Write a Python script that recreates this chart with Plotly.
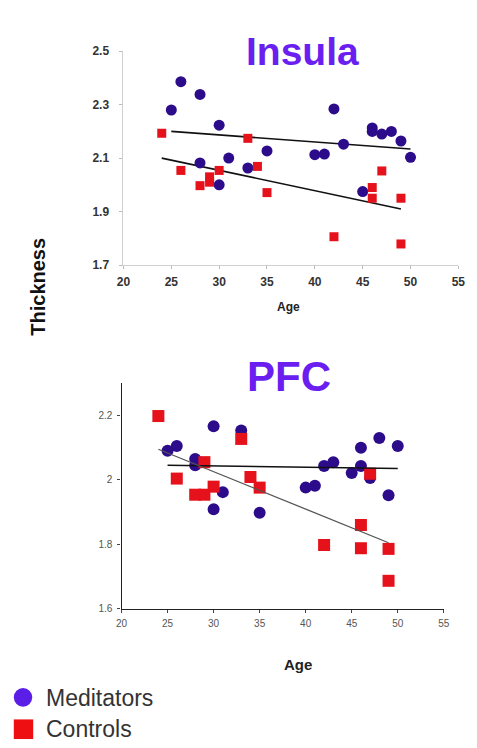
import plotly.graph_objects as go

W, H = 477, 748

# ---------------- Insula data ----------------
ins_med_age = [25, 26, 28, 30, 28, 30, 31, 33, 35, 40, 41, 42, 43, 45, 46, 46, 47, 48, 49, 50]
ins_med_thk = [2.28, 2.386, 2.338, 2.223, 2.082, 2.0, 2.10, 2.063, 2.127, 2.113, 2.115, 2.284,
               2.152, 1.975, 2.213, 2.20, 2.19, 2.20, 2.164, 2.103]
ins_con_age = [24, 26, 28, 29, 29, 30, 33, 34, 35, 42, 46, 46, 47, 49, 49]
ins_con_thk = [2.193, 2.054, 1.997, 2.03, 2.01, 2.054, 2.174, 2.069, 1.971, 1.806, 1.99, 1.95,
               2.052, 1.95, 1.779]
ins_med_fit_age = [25, 50]
ins_med_fit_thk = [2.20, 2.134]
ins_con_fit_age = [24, 49]
ins_con_fit_thk = [2.10, 1.91]

# ---------------- PFC data ----------------
pfc_med_age = [25, 26, 28, 28, 30, 30, 31, 33, 35, 40, 41, 42, 43, 45, 46, 46, 47, 48, 49, 50]
pfc_med_thk = [2.089, 2.104, 2.064, 2.044, 2.165, 1.908, 1.961, 2.152, 1.897, 1.975, 1.981,
               2.042, 2.054, 2.02, 2.099, 2.042, 2.005, 2.129, 1.951, 2.104]
pfc_con_age = [24, 26, 28, 29, 29, 30, 33, 34, 35, 42, 46, 46, 47, 49, 49]
pfc_con_thk = [2.197, 2.003, 1.953, 1.953, 2.054, 1.978, 2.126, 2.008, 1.975, 1.797, 1.859,
               1.787, 2.018, 1.785, 1.686]
pfc_med_fit_age = [25, 50]
pfc_med_fit_thk = [2.044, 2.034]
pfc_con_fit_age = [24, 49]
pfc_con_fit_thk = [2.094, 1.804]

x_ticks = [20, 25, 30, 35, 40, 45, 50, 55]
ins_y_ticks = [1.7, 1.9, 2.1, 2.3, 2.5]
ins_y_labels = ["1.7", "1.9", "2.1", "2.3", "2.5"]
pfc_y_ticks = [1.6, 1.8, 2.0, 2.2]
pfc_y_labels = ["1.6", "1.8", "2", "2.2"]

MED_C = "#2c0c8a"
CON_C = "#e5121c"
TITLE_C = "#6a1ff0"


def px_x(p):
    return p / W


def px_y(p):
    return 1 - p / H


fig = go.Figure()

# Insula
fig.add_trace(go.Scatter(x=ins_med_fit_age, y=ins_med_fit_thk, mode="lines",
                         line=dict(color="#111", width=1.6), xaxis="x", yaxis="y", showlegend=False))
fig.add_trace(go.Scatter(x=ins_con_fit_age, y=ins_con_fit_thk, mode="lines",
                         line=dict(color="#111", width=1.6), xaxis="x", yaxis="y", showlegend=False))
fig.add_trace(go.Scatter(x=ins_med_age, y=ins_med_thk, mode="markers", cliponaxis=False,
                         marker=dict(symbol="circle", size=11, color=MED_C),
                         xaxis="x", yaxis="y", showlegend=False))
fig.add_trace(go.Scatter(x=ins_con_age, y=ins_con_thk, mode="markers", cliponaxis=False,
                         marker=dict(symbol="square", size=9, color=CON_C),
                         xaxis="x", yaxis="y", showlegend=False))

# PFC
fig.add_trace(go.Scatter(x=pfc_med_age, y=pfc_med_thk, mode="markers", cliponaxis=False,
                         marker=dict(symbol="circle", size=12, color=MED_C),
                         xaxis="x2", yaxis="y2", showlegend=False))
fig.add_trace(go.Scatter(x=pfc_con_age, y=pfc_con_thk, mode="markers", cliponaxis=False,
                         marker=dict(symbol="square", size=12, color=CON_C),
                         xaxis="x2", yaxis="y2", showlegend=False))
fig.add_trace(go.Scatter(x=pfc_med_fit_age, y=pfc_med_fit_thk, mode="lines",
                         line=dict(color="#111", width=1.5), xaxis="x2", yaxis="y2", showlegend=False))
fig.add_trace(go.Scatter(x=pfc_con_fit_age, y=pfc_con_fit_thk, mode="lines",
                         line=dict(color="#555", width=1.3), xaxis="x2", yaxis="y2", showlegend=False))

FONT = "Liberation Sans, Arial, sans-serif"

fig.update_layout(
    width=W, height=H,
    margin=dict(l=0, r=0, t=0, b=0),
    paper_bgcolor="white", plot_bgcolor="white",
    font=dict(family=FONT),
    xaxis=dict(domain=[px_x(120), px_x(465)], range=[20, 55], tickvals=x_ticks,
               showline=True, linecolor="#d0d0d0", linewidth=1, showgrid=False, zeroline=False,
               ticks="outside", ticklen=3, tickcolor="#bbb", ticklabelstandoff=3,
               tickfont=dict(size=12, color="#333", weight="bold"), anchor="y"),
    yaxis=dict(domain=[px_y(263), px_y(45)], range=[1.7, 2.5], tickvals=ins_y_ticks,
               ticktext=ins_y_labels,
               showline=True, linecolor="#d0d0d0", linewidth=1, showgrid=False, zeroline=False,
               ticks="outside", ticklen=3, tickcolor="#bbb", ticklabelstandoff=8,
               tickfont=dict(size=12, color="#333", weight="bold"), anchor="x"),
    xaxis2=dict(domain=[px_x(118), px_x(450)], range=[20, 55], tickvals=x_ticks,
                showline=True, linecolor="#222", linewidth=1.2, showgrid=False, zeroline=False,
                ticks="outside", ticklen=3, tickcolor="#444", ticklabelstandoff=2,
                tickfont=dict(size=10, color="#555"), anchor="y2"),
    yaxis2=dict(domain=[px_y(613), px_y(383)], range=[1.6, 2.3], tickvals=pfc_y_ticks,
                ticktext=pfc_y_labels,
                showline=True, linecolor="#222", linewidth=1.2, showgrid=False, zeroline=False,
                ticks="outside", ticklen=3, tickcolor="#444", ticklabelstandoff=3,
                tickfont=dict(size=10, color="#555"), anchor="x2"),
)

ann = [
    dict(text="<b>Insula</b>", x=px_x(304), y=px_y(45), font=dict(size=39, color=TITLE_C)),
    dict(text="<b>PFC</b>", x=px_x(291), y=px_y(377), font=dict(size=42, color=TITLE_C)),
    dict(text="<b>Age</b>", x=px_x(290), y=px_y(306), font=dict(size=12, color="#222")),
    dict(text="<b>Age</b>", x=px_x(300), y=px_y(670), font=dict(size=15, color="#222")),
    dict(text="<b>Thickness</b>", x=px_x(32), y=px_y(285), textangle=-90,
         font=dict(size=20, color="#111")),
    dict(text="Meditators", x=px_x(38), y=px_y(704), xanchor="left",
         font=dict(size=23, color="#333")),
    dict(text="Controls", x=px_x(38), y=px_y(736), xanchor="left",
         font=dict(size=23, color="#333")),
]
for a in ann:
    a.setdefault("xanchor", "center")
    fig.add_annotation(xref="paper", yref="paper", showarrow=False, yanchor="middle", **a)

# legend symbols
fig.add_shape(type="circle", xref="paper", yref="paper",
              x0=px_x(7), x1=px_x(26), y0=px_y(713), y1=px_y(694),
              fillcolor="#5a1ee6", line=dict(width=0))
fig.add_shape(type="rect", xref="paper", yref="paper",
              x0=px_x(7), x1=px_x(27), y0=px_y(746), y1=px_y(726),
              fillcolor="#ee0f12", line=dict(width=0))

fig.write_html("out.html")
